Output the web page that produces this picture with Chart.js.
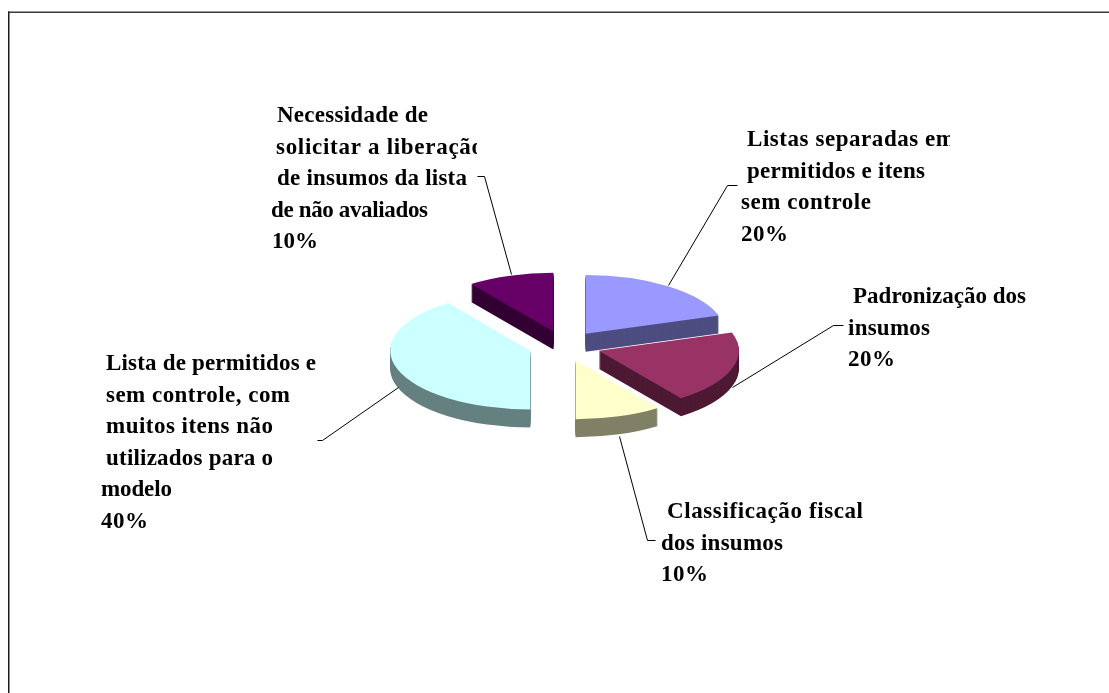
<!DOCTYPE html>
<html lang="pt">
<head>
<meta charset="utf-8">
<title>Gráfico de pizza</title>
<script src="https://cdn.jsdelivr.net/npm/chart.js@4"></script>
<style>
  html, body { margin: 0; padding: 0; background: #fff; }
  canvas { display: block; }
</style>
</head>
<body>
<canvas id="chart" width="1109" height="693"></canvas>
<script>
// Slice data, clockwise from twelve o'clock
const categories = [
  ['Listas separadas em', 'permitidos e itens', 'sem controle'],
  ['Padronização dos', 'insumos'],
  ['Classificação fiscal', 'dos insumos'],
  ['Lista de permitidos e', 'sem controle, com', 'muitos itens não', 'utilizados para o', 'modelo'],
  ['Necessidade de', 'solicitar a liberação', 'de insumos da lista', 'de não avaliados']
];
const values = [20, 20, 10, 40, 10];
const topColors = ['#9999FF', '#993366', '#FFFFCC', '#CCFFFF', '#660066'];
const wallColors = ['#4D4D80', '#4D1933', '#808066', '#668080', '#330033'];

// Perspective of the tilted pie
const TILT = 0.42;
const DEPTH = 18;
const EXPLODE = 36;
const FONT = 'bold 23px "Liberation Serif", "Times New Roman", serif';
const LINE_STEP = 31.6;

// Label blocks: start and end x of each line, first baseline, clip edge, leader polyline
const labelLayout = [
  { xs: [747, 747, 741, 741], ends: [955, 925, 871, 788], y: 146, clip: 950, leader: [[737, 185], [727, 185], [668, 285]] },
  { xs: [853, 848, 848], ends: [1026, 930, 895], y: 303, clip: 1100, leader: [[843, 325], [833, 325], [732, 387]] },
  { xs: [667, 661, 661], ends: [863, 783, 708], y: 518, clip: 1100, leader: [[655, 540], [647, 540], [619, 436]] },
  { xs: [106, 106, 106, 106, 101, 101], ends: [316, 290, 273, 273, 172, 148], y: 370, clip: 317, leader: [[317, 440], [322, 440], [398, 387]] },
  { xs: [277, 276, 277, 271, 272], ends: [428, 483, 467, 428, 318], y: 122, clip: 477, leader: [[477, 176], [484, 176], [511, 274]] }
];

// Pie controller that lifts each slice out of the centre and extrudes it downwards
class TiltedPieController extends Chart.PieController {
  drawSlice(arc, lift) {
    const ctx = this.chart.ctx;
    const mid = (arc.startAngle + arc.endAngle) / 2;
    const dx = Math.cos(mid) * EXPLODE;
    const dy = Math.sin(mid) * EXPLODE * TILT;
    ctx.save();
    ctx.translate(arc.x + dx, arc.y + dy + lift);
    ctx.scale(1, TILT);
    ctx.translate(-arc.x, -arc.y);
    arc.draw(ctx);
    ctx.restore();
  }
  draw() {
    const arcs = this.getMeta().data;
    arcs.forEach((arc, i) => {
      const base = arc.options;
      arc.options = Object.create(base, {
        backgroundColor: { value: wallColors[i] },
        borderColor: { value: wallColors[i] }
      });
      for (let lift = DEPTH; lift > 0; lift--) this.drawSlice(arc, lift);
      arc.options = base;
    });
    arcs.forEach(arc => this.drawSlice(arc, 0));
  }
}
TiltedPieController.id = 'tiltedPie';
TiltedPieController.defaults = Chart.PieController.defaults;
Chart.register(TiltedPieController);

// Frame along the top and left edges, drawn under the chart
const framePlugin = {
  id: 'frame',
  beforeDraw(chart) {
    const ctx = chart.ctx;
    ctx.save();
    ctx.fillStyle = '#3a3a3a';
    ctx.fillRect(8, 11.5, 1101, 1.5);
    ctx.fillStyle = '#1c1c1c';
    ctx.fillRect(8, 11.5, 1.5, 682);
    ctx.restore();
  }
};

// Leader lines and multi-line labels with their percentages
const labelPlugin = {
  id: 'sliceLabels',
  afterDatasetsDraw(chart) {
    const ctx = chart.ctx;
    const total = values.reduce((a, b) => a + b, 0);
    ctx.save();
    ctx.strokeStyle = '#000';
    ctx.lineWidth = 1;
    labelLayout.forEach(block => {
      ctx.beginPath();
      block.leader.forEach(([x, y], k) => k ? ctx.lineTo(x + 0.5, y + 0.5) : ctx.moveTo(x + 0.5, y + 0.5));
      ctx.stroke();
    });
    ctx.font = FONT;
    ctx.fillStyle = '#000';
    ctx.textBaseline = 'alphabetic';
    categories.forEach((lines, i) => {
      const block = labelLayout[i];
      const text = lines.concat(Math.round(values[i] / total * 100) + '%');
      ctx.save();
      ctx.beginPath();
      ctx.rect(0, 0, block.clip, 693);
      ctx.clip();
      text.forEach((line, k) => {
        // Track each line out to its end position
        ctx.letterSpacing = '0px';
        const natural = ctx.measureText(line).width;
        const gap = (block.ends[k] - block.xs[k] - natural) / Math.max(line.length - 1, 1);
        ctx.letterSpacing = gap.toFixed(3) + 'px';
        ctx.fillText(line, block.xs[k], block.y + k * LINE_STEP);
      });
      ctx.restore();
    });
    ctx.restore();
  }
};

new Chart(document.getElementById('chart'), {
  type: 'tiltedPie',
  data: {
    labels: categories.map(lines => lines.join(' ')),
    datasets: [{
      data: values,
      backgroundColor: topColors,
      borderWidth: 0,
      radius: 140
    }]
  },
  options: {
    responsive: false,
    animation: false,
    layout: { padding: { left: 20, right: 0, top: 0, bottom: 1 } },
    plugins: { legend: { display: false }, tooltip: { enabled: false } }
  },
  plugins: [framePlugin, labelPlugin]
});
</script>
</body>
</html>
